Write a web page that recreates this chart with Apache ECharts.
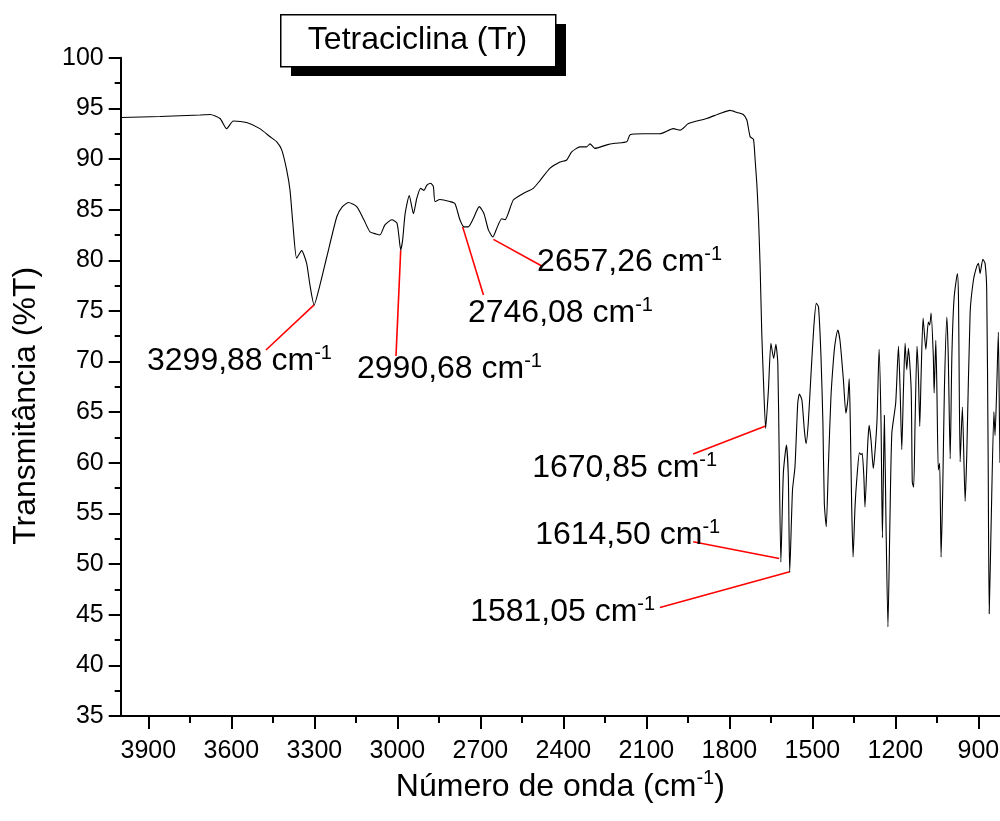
<!DOCTYPE html>
<html><head><meta charset="utf-8">
<script src="https://cdn.jsdelivr.net/npm/echarts@6/dist/echarts.min.js"></script>
<style>html,body{margin:0;padding:0;background:#fff}#c{width:1000px;height:821px}</style>
</head><body><div id="c"></div>
<script>
const wavenumber = [4000,3858,3713,3677,3641,3617,3593,3545,3497,3460,3436,3418,3400,3388,3378,3364,3346,3328,3316,3301,3280,3255,3219,3200,3177,3147,3121,3099,3077,3063,3045,3020,3002,2995,2988,2981,2972,2957,2942,2930,2916,2904,2894,2880,2870,2864,2846,2810,2792,2774,2759,2744,2726,2704,2687,2671,2655,2641,2623,2611,2581,2545,2509,2484,2448,2412,2388,2370,2340,2316,2304,2286,2243,2213,2171,2159,2111,2051,2003,1978,1948,1882,1834,1798,1773,1750,1737,1725,1713,1707,1701,1695,1689,1683,1677,1669,1659,1650,1640,1632,1625,1620,1614,1605,1594,1587,1582,1572,1563,1553,1547,1538,1529,1523,1515,1505,1495,1486,1478,1469,1462,1457,1450,1442,1433,1424,1418,1408,1400,1388,1379,1372,1367,1363,1358,1353,1346,1339,1330,1324,1320,1314,1310,1300,1295,1288,1280,1267,1259,1252,1247,1240,1234,1227,1220,1213,1199,1189,1183,1177,1171,1165,1159,1153,1143,1139,1134,1129,1122,1117,1112,1107,1100,1090,1081,1076,1071,1063,1060,1054,1050,1045,1040,1035,1029,1023,1014,1009,1002,996,988,976,972,966,958,948,942,930,918,906,900,894,884,876,870,865,861,854,844,840,834,828,824,822];
const transmittance = [94.1,94.2,94.35,94.4,94.0,93.0,93.75,93.6,93.0,92.2,91.7,90.9,88.9,86.9,83.7,80.2,80.95,79.7,77.55,75.6,77.55,80.35,84.3,85.25,85.7,85.3,84.0,82.8,82.6,82.5,83.5,84.0,83.7,82.5,81.0,82.0,84.6,86.4,84.6,86.1,87.1,86.9,87.4,87.6,87.3,85.8,86.0,85.8,85.6,84.0,83.3,83.3,84.1,85.3,84.6,83.0,82.3,83.15,84.1,84.0,85.95,86.6,87.1,87.9,89.1,89.7,89.9,90.7,91.2,91.2,91.5,91.05,91.4,91.55,91.7,92.4,92.5,92.5,93.0,92.85,93.5,94.0,94.5,94.8,94.6,94.4,93.85,92.2,91.95,89.9,87.6,84.3,79.4,72.8,68.2,63.4,67.2,71.8,70.3,71.7,69.8,60.6,50.2,59.0,61.75,58.6,49.2,57.3,59.6,65.9,66.8,66.2,63.2,61.9,63.9,68.8,73.4,75.75,75.4,70.5,63.9,56.0,53.7,59.9,66.5,70.15,71.8,73.1,72.0,68.2,64.9,66.2,68.3,63.9,55.65,50.7,55.65,58.6,61.0,60.8,60.95,58.6,55.65,61.9,63.7,62.2,59.45,63.9,71.2,63.9,52.6,64.7,54.0,43.8,54.0,62.9,65.9,71.5,67.2,61.3,67.2,71.8,69.2,71.3,67.2,58.1,57.6,63.9,71.5,68.8,63.6,68.8,74.3,71.2,73.9,73.6,74.8,70.5,66.9,72.1,67.2,59.3,59.95,50.7,57.3,67.2,74.4,70.5,60.4,70.5,76.25,78.7,76.1,60.1,65.5,56.2,60.9,74.8,78.05,79.4,79.7,78.7,80.1,79.7,77.05,61.3,45.1,54.0,65.05,62.7,67.2,72.9,64.2,60];
const xTickLabels = [3900,3600,3300,3000,2700,2400,2100,1800,1500,1200,900];
const xMinorTicks = [3750,3450,3150,2850,2550,2250,1950,1650,1350,1050];
const peakNames = ['3299,88','2990,68','2746,08','2657,26','1670,85','1614,50','1581,05'];
const peakX = [3301,2988,2764,2653,1669,1620,1582];
const peakY = [75.6,81.0,83.3,82.07,63.63,50.56,49.24];
const leaderEndX = [3475,3005,2689,2478,1931,1931,2051];
const leaderEndY = [71.14,70.54,76.57,79.43,60.86,52.21,45.71];
const labelX = [3905,3146,2745,2495,2513,2502,2737];
const labelY = [70.05,69.26,74.79,79.83,59.48,52.86,45.26];
const chartTitle = 'Tetraciclina (Tr)';

const FF = "'Liberation Sans', Arial, sans-serif";
const chart = echarts.init(document.getElementById('c'), null, {renderer:'canvas'});
const supRich = {
  a:{fontFamily:FF, fontSize:32, color:'#000', lineHeight:36},
  s:{fontFamily:FF, fontSize:20, color:'#000', verticalAlign:'top', lineHeight:36}
};
chart.setOption({
  animation:false,
  backgroundColor:'#fff',
  graphic:[
    {type:'rect', left:291, top:24, shape:{width:275, height:52}, style:{fill:'#000'}, silent:true},
    {type:'rect', left:280, top:14, shape:{width:275, height:52}, style:{fill:'#fff', stroke:'#000', lineWidth:1.5}, silent:true},
    {type:'text', x:417.5, y:40, style:{text:chartTitle, align:'center', verticalAlign:'middle', fontSize:32, fontFamily:FF, fill:'#000'}, silent:true}
  ],
  grid:{left:120.7, right:0, top:57.75, bottom:105, containLabel:false, outerBoundsMode:'none'},
  xAxis:[{
    type:'value', inverse:true, min:822, max:4000, position:'bottom',
    axisLine:{show:true, onZero:false, lineStyle:{color:'#000', width:2}},
    axisTick:{show:true, customValues:xTickLabels, length:13, lineStyle:{color:'#000', width:2}},
    axisLabel:{customValues:xTickLabels, margin:23, fontSize:25, color:'#000', fontFamily:FF, formatter:v=>String(v)},
    splitLine:{show:false},
    name:'{a|Número de onda (cm}{s|-1}{a|)}', nameLocation:'middle', nameGap:34,
    nameTextStyle:{rich:supRich}
  },{
    type:'value', inverse:true, min:822, max:4000, position:'bottom',
    axisLine:{show:false}, axisLabel:{show:false}, splitLine:{show:false},
    axisTick:{show:true, customValues:xMinorTicks, length:7, lineStyle:{color:'#000', width:2}}
  }],
  yAxis:{
    type:'value', min:35, max:100, interval:5,
    axisLine:{show:true, lineStyle:{color:'#000', width:2}},
    axisTick:{show:true, length:12, lineStyle:{color:'#000', width:2}},
    minorTick:{show:true, splitNumber:2, length:6, lineStyle:{color:'#000', width:2}},
    axisLabel:{fontSize:25, margin:17, color:'#000', fontFamily:FF, formatter:v=>String(v)},
    splitLine:{show:false},
    name:'Transmitância (%T)', nameLocation:'middle', nameGap:79,
    nameTextStyle:{fontSize:32, color:'#000', fontFamily:FF, padding:[0,38,0,0]}
  },
  series:[{
    type:'line', xAxisIndex:0, yAxisIndex:0,
    data:wavenumber.map((w,i)=>[w, transmittance[i]]),
    showSymbol:false, smooth:0.2, silent:true,
    lineStyle:{color:'#000', width:1.1}
  },{
    type:'lines', coordinateSystem:'cartesian2d', xAxisIndex:0, yAxisIndex:0,
    data:peakX.map((x,i)=>({coords:[[x, peakY[i]],[leaderEndX[i], leaderEndY[i]]]})),
    lineStyle:{color:'#ff0000', width:1.6, opacity:1}, silent:true
  },{
    type:'scatter', xAxisIndex:0, yAxisIndex:0, symbolSize:0, silent:true,
    itemStyle:{opacity:1, color:'rgba(0,0,0,0)'},
    data:labelX.map((x,i)=>[x, labelY[i]]),
    label:{show:true, position:'right', distance:0, color:'#000', opacity:1,
      formatter:p=>'{a|'+peakNames[p.dataIndex]+' cm}{s|-1}', rich:supRich}
  }]
});
</script></body></html>
